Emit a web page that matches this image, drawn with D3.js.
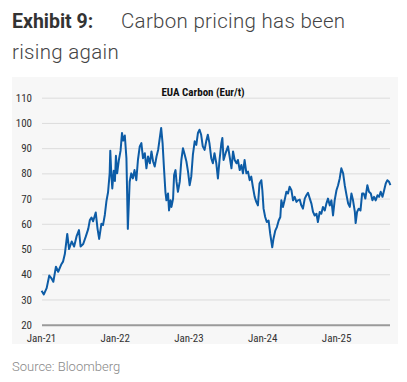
<!DOCTYPE html>
<html><head><meta charset="utf-8">
<script src="https://cdn.jsdelivr.net/npm/d3@7"></script>
<style>
html,body{margin:0;padding:0;background:#fff;}
svg{display:block;}
</style></head>
<body>
<svg id="c" width="407" height="382"></svg>
<script>
const dates = ["2021-01-04","2021-01-15","2021-01-29","2021-02-11","2021-02-21","2021-03-03","2021-03-16","2021-03-27","2021-04-12","2021-04-20","2021-04-29","2021-05-11","2021-05-20","2021-06-02","2021-06-14","2021-06-26","2021-07-08","2021-07-16","2021-07-29","2021-08-11","2021-08-23","2021-08-31","2021-09-08","2021-09-16","2021-09-29","2021-10-08","2021-10-16","2021-10-27","2021-11-04","2021-11-13","2021-11-21","2021-11-29","2021-12-07","2021-12-10","2021-12-15","2021-12-20","2021-12-27","2022-01-02","2022-01-07","2022-01-13","2022-01-21","2022-01-30","2022-02-06","2022-02-12","2022-02-20","2022-02-28","2022-03-07","2022-03-16","2022-03-24","2022-04-01","2022-04-09","2022-04-18","2022-04-26","2022-05-05","2022-05-13","2022-05-21","2022-05-30","2022-06-07","2022-06-15","2022-06-24","2022-07-02","2022-07-10","2022-07-18","2022-07-27","2022-08-04","2022-08-12","2022-08-19","2022-08-26","2022-09-02","2022-09-09","2022-09-14","2022-09-22","2022-09-27","2022-10-04","2022-10-09","2022-10-17","2022-10-22","2022-10-29","2022-11-03","2022-11-10","2022-11-19","2022-11-27","2022-12-05","2022-12-14","2022-12-22","2022-12-30","2023-01-07","2023-01-15","2023-01-23","2023-02-01","2023-02-09","2023-02-17","2023-02-25","2023-03-05","2023-03-13","2023-03-22","2023-03-30","2023-04-07","2023-04-15","2023-04-24","2023-05-02","2023-05-10","2023-05-19","2023-05-27","2023-06-04","2023-06-13","2023-06-18","2023-06-24","2023-07-04","2023-07-16","2023-07-24","2023-08-02","2023-08-10","2023-08-18","2023-08-27","2023-09-03","2023-09-12","2023-09-20","2023-09-28","2023-10-06","2023-10-15","2023-10-23","2023-10-31","2023-11-08","2023-11-16","2023-11-25","2023-12-03","2023-12-11","2023-12-19","2023-12-28","2024-01-02","2024-01-08","2024-01-16","2024-01-24","2024-02-02","2024-02-10","2024-02-15","2024-02-20","2024-02-26","2024-03-06","2024-03-14","2024-03-23","2024-03-31","2024-04-05","2024-04-13","2024-04-21","2024-04-30","2024-05-08","2024-05-16","2024-05-25","2024-06-02","2024-06-10","2024-06-19","2024-06-26","2024-07-05","2024-07-13","2024-07-21","2024-07-30","2024-08-07","2024-08-15","2024-08-24","2024-09-01","2024-09-09","2024-09-17","2024-09-26","2024-10-03","2024-10-12","2024-10-20","2024-10-28","2024-11-06","2024-11-14","2024-11-22","2024-12-01","2024-12-09","2024-12-17","2024-12-25","2025-01-03","2025-01-11","2025-01-19","2025-01-27","2025-02-05","2025-02-13","2025-02-22","2025-03-02","2025-03-10","2025-03-18","2025-03-26","2025-04-04","2025-04-08","2025-04-15","2025-04-23","2025-05-02","2025-05-10","2025-05-18","2025-05-26","2025-06-05","2025-06-13","2025-06-22","2025-06-30","2025-07-08","2025-07-16","2025-07-25","2025-08-02","2025-08-10","2025-08-19","2025-08-27","2025-09-04","2025-09-12","2025-09-20","2025-09-27"];
const prices = [33.5,32,34.5,39.5,38.5,37,43,41,44,45,48,56,50,53,51,55,57.5,51,52,55,58,61.5,62.5,61,64.5,58,54,60,59.5,63.5,69,72.5,80,89,80,74,81,77,87,80,85,89,96,93,95,86,58,76.7,80,78,81.3,77.3,85.3,90.7,92,86,88,82,86.7,84,88.7,84.7,82.7,86.7,89.3,94,98,92,82,72.7,69.3,72,65.3,69.3,66.7,70,79.3,81.3,76.7,72.7,76.7,85.3,90,87.3,84.7,80.7,75.3,78.7,87.3,92.7,91.3,96,97.3,95.3,90.7,89.3,92.7,95.3,92,86,84,88,84,78,85.3,92,94,85.3,88,90.7,86.7,82,88.7,85.3,84,85.3,81.3,83.3,80,85.3,80,80.7,77.3,78.7,74.7,70.7,68.7,67.3,76,77.3,73.3,66,62.7,60.7,61.3,56,53.3,50.7,54,57.3,58.7,61.3,62.7,69.3,66.7,69.3,72.7,72,74.7,73.3,69.3,70.7,68.7,69.3,69.6,67.3,66,70,71.3,72.3,70,68,64.7,63.3,64,60.7,64.7,64,66.7,65.3,68,70,67.3,69.3,63.3,69.3,73.3,75.3,78,82,80,75.3,71.3,68,66.7,72,69.3,64.7,60.3,64.7,66,65.3,72,72,70,75.3,72.7,72,69.3,70.7,69.3,71.3,70.7,72.7,70.7,73.3,76,77.3,76.7,75.3];
const yTicks = [20,30,40,50,60,70,80,90,100,110];
const xTickDates = ["2021-01-01","2022-01-01","2023-01-01","2024-01-01","2025-01-01"];
const xTickLabels = ["Jan-21","Jan-22","Jan-23","Jan-24","Jan-25"];

const parse = d3.timeParse("%Y-%m-%d");
const data = dates.map((d,i)=>({date:parse(d), v:prices[i]}));

const svg = d3.select("#c");
const chartFont = "'Liberation Sans Narrow','Arial Narrow','Roboto Condensed',sans-serif";

// panel background
svg.append("rect").attr("x",12).attr("y",77).attr("width",386).attr("height",267).attr("fill","#f7f7f7");

// titles
svg.append("text").attr("x",12).attr("y",28).attr("font-family","Roboto, sans-serif").attr("font-size",19.5).attr("font-weight",700).attr("fill","#333").text("Exhibit 9:");
svg.append("text").attr("x",121).attr("y",28).attr("font-family","Roboto, sans-serif").attr("font-size",20.5).attr("font-weight",300).attr("letter-spacing",0.3).attr("fill","#444").text("Carbon pricing has been");
svg.append("text").attr("x",12).attr("y",59).attr("font-family","Roboto, sans-serif").attr("font-size",20.5).attr("font-weight",300).attr("letter-spacing",0.3).attr("fill","#444").text("rising again");

svg.append("text").attr("x",203).attr("y",96).attr("text-anchor","middle").attr("font-family",chartFont).attr("font-weight",700).attr("font-size",11).attr("fill","#111").text("EUA Carbon (Eur/t)");

svg.append("text").attr("x",12).attr("y",371).attr("font-family","Roboto, sans-serif").attr("font-size",13).attr("font-weight",300).attr("fill","#888").text("Source: Bloomberg");

const x = d3.scaleTime().domain([parse("2021-01-01"), parse("2025-09-30")]).range([41, 391]);
const y = d3.scaleLinear().domain([20,110]).range([324.7, 97.7]);

// gridlines
const yAxis = d3.axisLeft(y).tickValues(yTicks).tickSize(-348).tickFormat(d3.format("d")).tickPadding(10);
const gy = svg.append("g").attr("transform","translate(42,0)").call(yAxis);
gy.select(".domain").remove();
gy.selectAll(".tick line").attr("stroke","#dcdcdc").attr("stroke-width",1);
gy.selectAll(".tick").filter(d=>d===20).select("line").attr("stroke","#9a9a9a").attr("stroke-width",2);
gy.selectAll(".tick text").attr("font-family",chartFont).attr("font-size",11).attr("fill","#333");

// x axis
const xAxis = d3.axisBottom(x).tickValues(xTickDates.map(parse)).tickSize(0).tickPadding(10)
  .tickFormat((d,i)=>xTickLabels[i]);
const gx = svg.append("g").attr("transform","translate(0,324.7)").call(xAxis);
gx.select(".domain").remove();
gx.selectAll(".tick text").attr("font-family",chartFont).attr("font-size",11).attr("fill","#333");

// line
const line = d3.line().x(d=>x(d.date)).y(d=>y(d.v));
svg.append("path").datum(data).attr("d",line).attr("fill","none").attr("stroke","#0d5ca6").attr("stroke-width",2).attr("stroke-linejoin","round");
</script>
</body></html>
